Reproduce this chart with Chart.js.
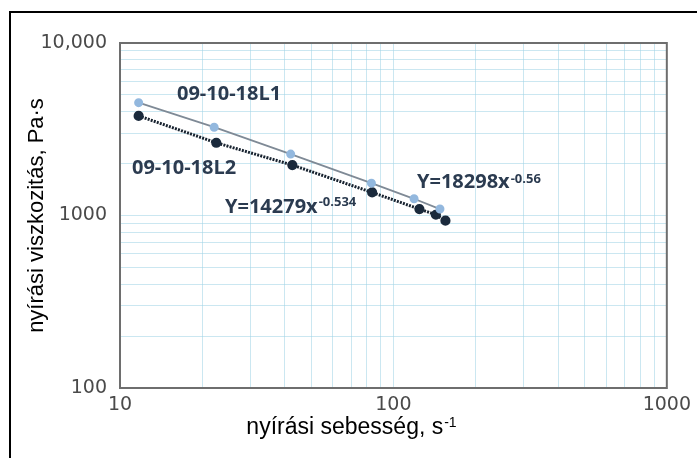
<!DOCTYPE html>
<html>
<head>
<meta charset="utf-8">
<script src="https://cdn.jsdelivr.net/npm/chart.js@4.4.1/dist/chart.umd.min.js"></script>
<style>
  html, body { margin: 0; padding: 0; background: #fff; }
  #wrap { position: relative; width: 697px; height: 458px; overflow: hidden; }
  #frame { position: absolute; left: 9px; top: 11px; width: 720px; height: 480px; border-top: 2px solid #000; border-left: 2px solid #000; }
  canvas { position: absolute; left: 0; top: 0; }
</style>
</head>
<body>
<div id="wrap">
  <div id="frame"></div>
  <canvas id="myChart" width="697" height="458"></canvas>
</div>
<script>
// sample 09-10-18L1
const shearRateL1 = [11.7, 22.1, 42.1, 83.1, 119, 148];
const viscosityL1 = [4510, 3250, 2270, 1540, 1250, 1090];
// sample 09-10-18L2
const shearRateL2 = [11.7, 22.5, 42.7, 83.6, 124.5, 143, 155];
const viscosityL2 = [3780, 2640, 1960, 1360, 1090, 1010, 933];

const seriesNames = ['09-10-18L1', '09-10-18L2'];
const fitLabels = ['Y=18298x', 'Y=14279x'];
const fitExponents = ['-0.56', '-0.534'];

// grid lines (log decades with minor steps) and labelled ticks
const xGridValues = [10, 20, 30, 40, 50, 60, 70, 80, 90, 100, 200, 300, 400, 500, 600, 700, 800, 900, 1000];
const yGridValues = [100, 200, 300, 400, 500, 600, 700, 800, 900, 1000, 2000, 3000, 4000, 5000, 6000, 7000, 8000, 9000, 10000];
const xLabelValues = [10, 100, 1000];
const xLabelTexts = ['10', '100', '1000'];
const yLabelValues = [100, 1000, 10000];
const yLabelTexts = ['100', '1000', '10,000'];

const xTitle = 'nyírási sebesség, s';
const xTitleSup = '-1';
const yTitle = 'nyírási viszkozitás, Pa·s';

function toPoints(xs, ys) {
  return xs.map((x, i) => ({ x: x, y: ys[i] }));
}

function labelFor(values, texts) {
  return function(v) {
    const i = values.indexOf(v);
    return i >= 0 ? texts[i] : '';
  };
}

const gridColor = 'rgba(160, 212, 230, 0.55)';
const tickFont = { family: 'DejaVu Sans', size: 19 };
const noteColor = '#2b3b50';

const extraText = {
  id: 'extraText',
  afterDraw(chart) {
    const ctx = chart.ctx;
    const a = chart.chartArea;
    ctx.save();

    // plot frame
    ctx.strokeStyle = '#6e6e6e';
    ctx.lineWidth = 2;
    ctx.strokeRect(a.left, a.top, a.right - a.left, a.bottom - a.top);

    // x axis title with superscript
    ctx.fillStyle = '#000';
    ctx.textBaseline = 'alphabetic';
    ctx.font = '23px "Liberation Sans", Arial, sans-serif';
    const w1 = ctx.measureText(xTitle).width;
    ctx.font = '14px "Liberation Sans", Arial, sans-serif';
    const w2 = ctx.measureText(xTitleSup).width;
    const x0 = 351 - (w1 + w2) / 2;
    ctx.font = '23px "Liberation Sans", Arial, sans-serif';
    ctx.textAlign = 'left';
    ctx.fillText(xTitle, x0, 434);
    ctx.font = '14px "Liberation Sans", Arial, sans-serif';
    ctx.fillText(xTitleSup, x0 + w1 + 1, 427);

    // series names
    ctx.fillStyle = noteColor;
    ctx.font = 'bold 20px "Open Sans", sans-serif';
    ctx.fillText(seriesNames[0], 177, 100);
    ctx.fillText(seriesNames[1], 132, 174);

    // fit equations
    const fits = [[417, 188, 183], [225, 213, 206]];
    fits.forEach((f, i) => {
      ctx.font = 'bold 20px "Open Sans", sans-serif';
      ctx.fillText(fitLabels[i], f[0], f[1]);
      const w = ctx.measureText(fitLabels[i]).width;
      ctx.font = 'bold 13px "Open Sans", sans-serif';
      ctx.fillText(fitExponents[i], f[0] + w + 1, f[2]);
    });

    ctx.restore();
  }
};

const ctx = document.getElementById('myChart').getContext('2d');

const myChart = new Chart(ctx, {
  type: 'scatter',
  data: {
    datasets: [{
      label: seriesNames[0],
      data: toPoints(shearRateL1, viscosityL1),
      showLine: true,
      borderColor: '#7f8a96',
      borderWidth: 1.8,
      backgroundColor: '#93b8de',
      pointBackgroundColor: '#93b8de',
      pointBorderColor: '#93b8de',
      pointRadius: 3.6
    }, {
      label: seriesNames[1],
      data: toPoints(shearRateL2, viscosityL2),
      showLine: true,
      borderColor: '#17222f',
      borderWidth: 3,
      borderDash: [2, 1.2],
      backgroundColor: '#1b2a3c',
      pointBackgroundColor: '#1b2a3c',
      pointBorderColor: '#1b2a3c',
      pointRadius: 3.6
    }]
  },
  options: {
    responsive: false,
    animation: false,
    layout: {
      padding: { left: 0, right: 24, top: 43, bottom: 0 }
    },
    plugins: {
      legend: { display: false },
      tooltip: { enabled: false }
    },
    scales: {
      x: {
        type: 'logarithmic',
        position: 'bottom',
        min: 10,
        max: 1000,
        afterBuildTicks: function(scale) {
          scale.ticks = xGridValues.map(v => ({ value: v }));
        },
        afterFit: function(scale) {
          scale.height = 70;
        },
        grid: { color: gridColor, lineWidth: 1, drawTicks: false },
        border: { display: false },
        ticks: {
          autoSkip: false,
          maxRotation: 0,
          padding: 6,
          color: '#4a4a4a',
          font: tickFont,
          callback: labelFor(xLabelValues, xLabelTexts)
        }
      },
      y: {
        type: 'logarithmic',
        position: 'left',
        min: 100,
        max: 10000,
        afterBuildTicks: function(scale) {
          scale.ticks = yGridValues.map(v => ({ value: v }));
        },
        afterFit: function(scale) {
          scale.width = 120;
        },
        grid: { color: gridColor, lineWidth: 1, drawTicks: false },
        border: { display: false },
        title: {
          display: true,
          text: yTitle,
          color: '#000',
          padding: { top: 24, bottom: 0 },
          font: { family: '"Liberation Sans", Arial, sans-serif', size: 22, weight: 'normal' }
        },
        ticks: {
          autoSkip: false,
          padding: 13,
          color: '#4a4a4a',
          font: tickFont,
          callback: labelFor(yLabelValues, yLabelTexts)
        }
      }
    }
  },
  plugins: [extraText]
});
</script>
</body>
</html>
